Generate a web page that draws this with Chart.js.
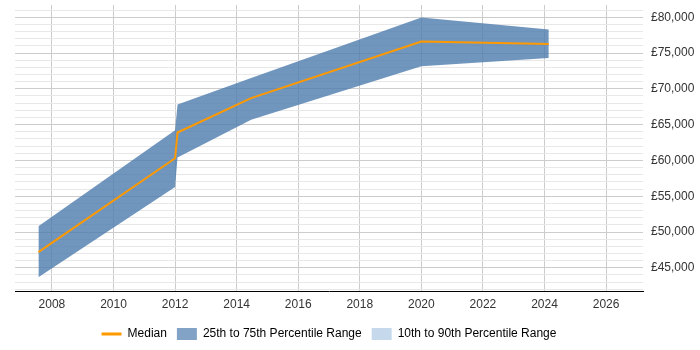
<!DOCTYPE html>
<html>
<head>
<meta charset="utf-8">
<script src="https://cdn.jsdelivr.net/npm/chart.js@4/dist/chart.umd.min.js"></script>
<style>
  body { margin: 0; background: #fff; }
  #wrap { width: 700px; height: 350px; }
</style>
</head>
<body>
<div id="wrap"><canvas id="chart" width="700" height="350"></canvas></div>
<script>
const years = [2007.56, 2012.0, 2012.08, 2014.47, 2020.0, 2024.14]
const median = [47200, 60300, 63900, 68700, 76600, 76250]
const p75 = [50800, 64200, 67800, 71500, 79950, 78300]
const p25 = [43700, 56300, 60400, 65700, 73150, 74300]

const orange = '#ff9900'
const band = 'rgba(77,124,174,0.8)'
const bandLegend = 'rgba(77,124,174,0.7)'
const outerBand = '#c6d9ec'

// gridlines every £1,000, labels every £5,000
const yGrid = []
for (let v = 42000; v <= 81000; v += 1000) yGrid.push(v)

function pts(vals) {
  return years.map((y, i) => ({x: y, y: vals[i]}))
}

function gbp(v) {
  return '£' + String(v).replace(/\B(?=(\d{3})+(?!\d))/g, ',')
}

// center the legend under the plot area instead of the whole canvas
const legendToPlot = {
  id: 'legendToPlot',
  afterLayout(chart) {
    const a = chart.chartArea
    chart.legend.left = a.left
    chart.legend.right = a.right
  }
}

Chart.defaults.font.family = "'Liberation Sans', Arial, sans-serif"
Chart.defaults.font.size = 12
Chart.defaults.color = '#333'

const config = {
  type: 'line',
  data: {
    datasets: [
      {
        label: 'Median',
        data: pts(median),
        borderColor: orange,
        borderWidth: 2,
        pointRadius: 0,
        fill: false,
        tension: 0
      },
      {
        label: '25th to 75th Percentile Range',
        data: pts(p75),
        borderWidth: 0,
        borderColor: 'rgba(0,0,0,0)',
        backgroundColor: band,
        pointRadius: 0,
        fill: '+1',
        tension: 0
      },
      {
        label: 'lower',
        data: pts(p25),
        borderWidth: 0,
        borderColor: 'rgba(0,0,0,0)',
        pointRadius: 0,
        fill: false,
        tension: 0
      },
      {
        label: '10th to 90th Percentile Range',
        data: [],
        backgroundColor: outerBand,
        pointRadius: 0
      }
    ]
  },
  options: {
    responsive: false,
    animation: false,
    layout: { padding: { left: 15, right: 0, top: 5, bottom: 0 } },
    scales: {
      x: {
        type: 'linear',
        min: 2006.8,
        max: 2027.2,
        ticks: {
          stepSize: 2,
          includeBounds: false,
          autoSkip: false,
          maxRotation: 0,
          padding: 6,
          callback: (v) => (Number.isInteger(v) && v % 2 === 0) ? String(v) : ''
        },
        grid: { color: '#cccccc', drawTicks: false },
        border: { display: true, color: '#000', width: 1 }
      },
      y: {
        position: 'right',
        min: 41680,
        max: 81710,
        afterBuildTicks: (s) => { s.ticks = yGrid.map(v => ({value: v})) },
        ticks: {
          autoSkip: false,
          padding: 8,
          callback: (v) => v % 5000 === 0 ? gbp(v) : ''
        },
        grid: {
          drawTicks: false,
          color: (ctx) => (ctx.tick && ctx.tick.value % 5000 === 0) ? '#cccccc' : '#e8e8e8'
        },
        border: { display: false },
        afterFit: (s) => { s.paddingTop = 0; s.paddingBottom = 0; s.width = 57 }
      }
    },
    plugins: {
      tooltip: { enabled: false },
      legend: {
        position: 'bottom',
        labels: {
          usePointStyle: true,
          pointStyleWidth: 20,
          boxWidth: 20,
          boxHeight: 12,
          padding: 10,
          color: '#222',
          generateLabels: () => [
            { text: 'Median', pointStyle: 'line', strokeStyle: orange, fillStyle: orange, lineWidth: 3, datasetIndex: 0 },
            { text: '25th to 75th Percentile Range', pointStyle: 'rect', fillStyle: bandLegend, strokeStyle: bandLegend, lineWidth: 0, datasetIndex: 1 },
            { text: '10th to 90th Percentile Range', pointStyle: 'rect', fillStyle: outerBand, strokeStyle: outerBand, lineWidth: 0, datasetIndex: 3 }
          ]
        }
      }
    }
  },
  plugins: [legendToPlot]
}

new Chart(document.getElementById('chart'), config)
</script>
</body>
</html>
